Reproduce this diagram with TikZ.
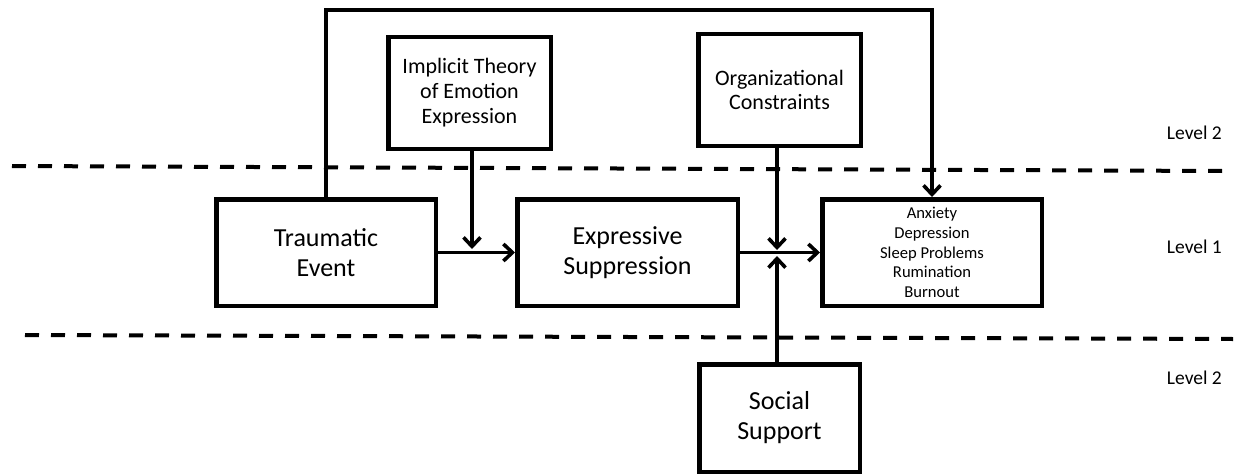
\documentclass[tikz,border=0pt]{standalone}
\usepackage{fontspec}
\setmainfont{Carlito}
\usetikzlibrary{arrows.meta}
\begin{document}
\begin{tikzpicture}[x=1pt,y=-1pt,
  box/.style={draw,line width=4.5pt,inner sep=0pt,align=center,font=\fontsize{26}{30}\selectfont},
  arr/.style={line width=3.8pt,-{Straight Barb[length=9pt,width=17pt,line width=3.6pt]}},
  lev/.style={font=\fontsize{19.5}{23}\selectfont,anchor=east,inner sep=0pt},
  dashline/.style={line width=4pt,dash pattern=on 14pt off 12pt}]
\useasboundingbox (0,0) rectangle (1241,476);
% level separators
\coordinate (d1a) at (12,166);
\coordinate (d1b) at (1222,171);
\coordinate (d2a) at (25,335);
\coordinate (d2b) at (1233,339);
\draw[dashline] (d1a) -- (d1b);
\draw[dashline] (d2a) -- (d2b);
% boxes
\node[box,minimum width=219.5pt,minimum height=106.5pt] (trauma) at (326,252.5) {Traumatic\\Event};
\node[box,minimum width=220.5pt,minimum height=106.5pt] (expr) at (627.5,252.5) {Expressive\\Suppression};
\node[box,minimum width=219.5pt,minimum height=106.5pt,font=\fontsize{16.6}{19.6}\selectfont] (outc) at (932,252.5) {Anxiety\\Depression\\Sleep Problems\\Rumination\\Burnout};
\node[box,minimum width=162.5pt,minimum height=111.5pt,font=\fontsize{22}{25}\selectfont] (impl) at (469.5,93) {Implicit Theory\\of Emotion\\Expression};
\node[box,minimum width=162.5pt,minimum height=111.5pt,font=\fontsize{22}{24}\selectfont] (org) at (779.5,90) {Organizational\\Constraints};
\node[box,minimum width=160.5pt,minimum height=107.5pt] (soc) at (779.5,418) {Social\\Support};
% level labels
\node[lev] (l2a) at (1222,133) {Level 2};
\node[lev] (l1) at (1222,247) {Level 1};
\node[lev] (l2b) at (1222,378) {Level 2};
% connectors
\coordinate (m1) at (472,249);
\coordinate (m2) at (777,250);
\coordinate (m3) at (777,256);
\coordinate (t1) at (326,10);
\coordinate (t2) at (932,10);
\draw[arr] (trauma) -- (expr);
\draw[arr] (expr) -- (outc);
\draw[arr] (m1 |- impl.south) -- (m1);
\draw[arr] (m2 |- org.south) -- (m2);
\draw[arr] (m3 |- soc.north) -- (m3);
\draw[arr,line join=miter] (trauma.north) -- (t1) -- (t2) -- (outc.north);
\end{tikzpicture}
\end{document}
